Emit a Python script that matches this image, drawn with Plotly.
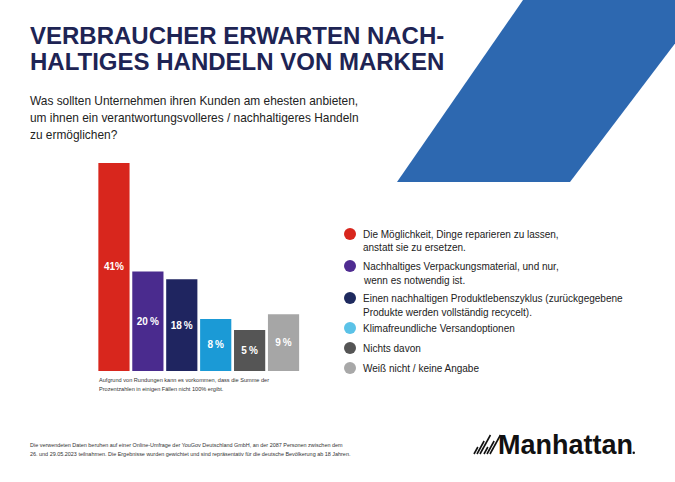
import plotly.graph_objects as go

W, H = 675, 482

# ---- data ----
categories = [
    "Reparieren statt ersetzen",
    "Nachhaltiges Verpackungsmaterial",
    "Nachhaltiger Produktlebenszyklus",
    "Klimafreundliche Versandoptionen",
    "Nichts davon",
    "Weiß nicht / keine Angabe",
]
shares_pct = [41, 20, 18, 8, 5, 9]                 # printed labels
bar_heights = [41, 19.6, 18.1, 10.25, 8.1, 11.2]   # heights as drawn in the graphic
bar_labels = ["41%", "20\u202f%", "18\u202f%", "8\u202f%", "5\u202f%", "9\u202f%"]
bar_colors = ["#D8261D", "#4A2B8E", "#1F2560", "#1B9AD6", "#555555", "#A6A6A6"]
legend_colors = ["#D8261D", "#4F2C91", "#1E2A5E", "#5BC2E7", "#555555", "#A8A8A8"]
legend_lines = [
    ["Die Möglichkeit, Dinge reparieren zu lassen,", "anstatt sie zu ersetzen."],
    ["Nachhaltiges Verpackungsmaterial, und nur,", "wenn es notwendig ist."],
    ["Einen nachhaltigen Produktlebenszyklus (zurückgegebene", "Produkte werden vollständig recycelt)."],
    ["Klimafreundliche Versandoptionen"],
    ["Nichts davon"],
    ["Weiß nicht / keine Angabe"],
]
title_lines = ["VERBRAUCHER ERWARTEN NACH-", "HALTIGES HANDELN VON MARKEN"]
subtitle_lines = [
    "Was sollten Unternehmen ihren Kunden am ehesten anbieten,",
    "um ihnen ein verantwortungsvolleres / nachhaltigeres Handeln",
    "zu ermöglichen?",
]
note_lines = [
    "Aufgrund von Rundungen kann es vorkommen, dass die Summe der",
    "Prozentzahlen in einigen Fällen nicht 100% ergibt.",
]
source_lines = [
    "Die verwendeten Daten beruhen auf einer Online-Umfrage der YouGov Deutschland GmbH, an der 2087 Personen zwischen dem",
    "26. und 29.05.2023 teilnahmen. Die Ergebnisse wurden gewichtet und sind repräsentativ für die deutsche Bevölkerung ab 18 Jahren.",
]

FONT = "Liberation Sans, Arial, Helvetica, sans-serif"

def px(x):
    return x / W

def py(y):
    return 1 - y / H

fig = go.Figure()
fig.add_trace(go.Bar(
    x=categories, y=bar_heights,
    marker=dict(color=bar_colors, line=dict(width=0)),
    text=bar_labels, textposition="inside", insidetextanchor="middle",
    textfont=dict(color="white", size=10, family=FONT, weight="bold"),
    textangle=0, cliponaxis=False, hoverinfo="skip",
    customdata=shares_pct,
))

shapes = []
# blue decorative band
shapes.append(dict(
    type="path", xref="paper", yref="paper",
    path=f"M {px(523)} {py(0)} L {px(708)} {py(0)} L {px(570)} {py(182)} L {px(397)} {py(182)} Z",
    fillcolor="#2D68B0", line=dict(width=0), layer="below",
))

annotations = []
# title
for i, t in enumerate(title_lines):
    annotations.append(dict(
        text=t, xref="paper", yref="paper", x=px(28), y=py(36 + 26 * i),
        xanchor="left", yanchor="middle", showarrow=False,
        font=dict(family=FONT, size=24, color="#1E2454", weight="bold"),
    ))
# subtitle
for i, t in enumerate(subtitle_lines):
    annotations.append(dict(
        text=t, xref="paper", yref="paper", x=px(28), y=py(101 + 17 * i),
        xanchor="left", yanchor="middle", showarrow=False,
        font=dict(family=FONT, size=11.9, color="#222222"),
    ))
# legend
row_y = [234, 266, 298, 328, 348, 368]
for i, lines in enumerate(legend_lines):
    cy = row_y[i]
    shapes.append(dict(
        type="circle", xref="paper", yref="paper",
        x0=px(344), x1=px(356), y0=py(cy + 6), y1=py(cy - 6),
        fillcolor=legend_colors[i], line=dict(width=0),
    ))
    for j, t in enumerate(lines):
        annotations.append(dict(
            text=t, xref="paper", yref="paper", x=px(361), y=py(cy + 14 * j),
            xanchor="left", yanchor="middle", showarrow=False,
            font=dict(family=FONT, size=10, color="#222222"),
        ))
# note under bars
for i, t in enumerate(note_lines):
    annotations.append(dict(
        text=t, xref="paper", yref="paper", x=px(97), y=py(380 + 9 * i),
        xanchor="left", yanchor="middle", showarrow=False,
        font=dict(family=FONT, size=5.6, color="#333333"),
    ))
# source
for i, t in enumerate(source_lines):
    annotations.append(dict(
        text=t, xref="paper", yref="paper", x=px(28), y=py(445 + 8.5 * i),
        xanchor="left", yanchor="middle", showarrow=False,
        font=dict(family=FONT, size=5.45, color="#333333"),
    ))
# logo
annotations.append(dict(
    text="Manhattan", xref="paper", yref="paper", x=px(496), y=py(445),
    xanchor="left", yanchor="middle", showarrow=False,
    font=dict(family=FONT, size=27, color="#111111", weight="bold"),
))
shapes.append(dict(
    type="circle", xref="paper", yref="paper",
    x0=px(632.5), x1=px(635), y0=py(454), y1=py(451.5),
    fillcolor="#111111", line=dict(width=0),
))
# logo slashes: two groups of rising strokes
base = 454
for g, gx in enumerate([474, 484]):
    for k, h in enumerate([7, 13, 19]):
        xb = gx + 3 * k
        shapes.append(dict(
            type="line", xref="paper", yref="paper",
            x0=px(xb), y0=py(base), x1=px(xb + h * 0.55), y1=py(base - h),
            line=dict(color="#111111", width=1.6),
        ))

fig.update_layout(
    width=W, height=H,
    margin=dict(l=0, r=0, t=0, b=0),
    paper_bgcolor="white", plot_bgcolor="white",
    showlegend=False,
    bargap=0.08,
    xaxis=dict(domain=[px(97), px(300.5)], visible=False, fixedrange=True),
    yaxis=dict(domain=[py(371), py(371 - 45 * 208 / 41)], range=[0, 45],
               visible=False, fixedrange=True),
    shapes=shapes,
    annotations=annotations,
    font=dict(family=FONT),
)

fig.write_html(
    "out.html",
    config={"displayModeBar": False, "staticPlot": True},
    post_script="document.body.style.margin='0px';document.body.style.overflow='hidden';",
)
